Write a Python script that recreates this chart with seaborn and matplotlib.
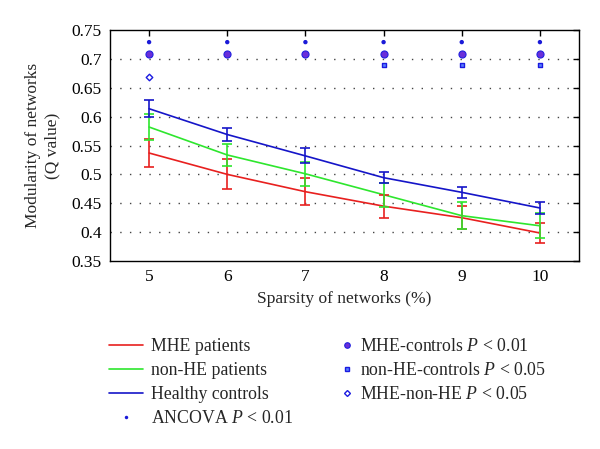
import numpy as np
import pandas as pd
import matplotlib
matplotlib.use("Agg")
import matplotlib.pyplot as plt
import seaborn as sns
from matplotlib.lines import Line2D

# ---- data ----
sparsity = [5, 6, 7, 8, 9, 10]
mhe_mean = [0.537, 0.500, 0.470, 0.445, 0.425, 0.3985]
mhe_err = [0.024, 0.026, 0.0235, 0.020, 0.020, 0.017]
nonhe_mean = [0.582, 0.5336, 0.501, 0.4648, 0.4285, 0.411]
nonhe_err = [0.0225, 0.019, 0.021, 0.021, 0.0235, 0.022]
hc_mean = [0.6137, 0.569, 0.532, 0.4943, 0.4689, 0.4418]
hc_err = [0.015, 0.012, 0.013, 0.0098, 0.010, 0.0104]

ancova_x = [5, 6, 7, 8, 9, 10]
ancova_y = [0.729, 0.729, 0.729, 0.729, 0.729, 0.729]
mhe_ctrl_x = [5, 6, 7, 8, 9, 10]
mhe_ctrl_y = [0.709, 0.709, 0.709, 0.709, 0.709, 0.709]
nonhe_ctrl_x = [8, 9, 10]
nonhe_ctrl_y = [0.689, 0.689, 0.689]
mhe_nonhe_x = [5]
mhe_nonhe_y = [0.669]

groups = ["MHE patients", "non-HE patients", "Healthy controls"]
y_ticks = [0.35, 0.4, 0.45, 0.5, 0.55, 0.6, 0.65, 0.7, 0.75]
y_tick_labels = ["0.35", "0.4", "0.45", "0.5", "0.55", "0.6", "0.65", "0.7", "0.75"]
x_ticks = [5, 6, 7, 8, 9, 10]
x_tick_labels = ["5", "6", "7", "8", "9", "10"]

colors = {"MHE patients": "#e8201f", "non-HE patients": "#2ee62e", "Healthy controls": "#1515c8"}

sns.set_style("white")
plt.rcParams["font.family"] = ["Liberation Serif", "DejaVu Serif"]
plt.rcParams["mathtext.fontset"] = "custom"
plt.rcParams["mathtext.rm"] = "Liberation Serif"
plt.rcParams["mathtext.it"] = "Liberation Serif:italic"

df = pd.DataFrame({
    "x": sparsity * 3,
    "y": mhe_mean + nonhe_mean + hc_mean,
    "err": mhe_err + nonhe_err + hc_err,
    "group": [g for g in groups for _ in sparsity],
})

fig = plt.figure(figsize=(6, 4.49), dpi=100)
ax = fig.add_axes([110 / 600, 1 - 261 / 449, (579 - 110) / 600, (261 - 30) / 449])

# grid
for yt in y_ticks[1:-1]:
    ax.axhline(yt, color="#444444", lw=1.0, ls=(0, (1, 6)), zorder=0)

sns.lineplot(data=df, x="x", y="y", hue="group", palette=colors, ax=ax,
             legend=False, lw=1.2, zorder=2)
for g in groups:
    sub = df[df["group"] == g]
    ax.errorbar(sub["x"], sub["y"], yerr=sub["err"], fmt="none",
                ecolor=colors[g], elinewidth=1.2, capsize=3.5, capthick=1.2, zorder=3)

sns.scatterplot(x=ancova_x, y=ancova_y, ax=ax, color="#1a1ad8", s=10, edgecolor="none", zorder=4)
sns.scatterplot(x=mhe_ctrl_x, y=mhe_ctrl_y, ax=ax, color="#6a2ed8", s=26,
                edgecolor="#2020e0", linewidth=0.8, zorder=4)
sns.scatterplot(x=nonhe_ctrl_x, y=nonhe_ctrl_y, ax=ax, marker="s", color="#5a80ff", s=11,
                edgecolor="#1a1ae0", linewidth=1.0, zorder=4)
sns.scatterplot(x=mhe_nonhe_x, y=mhe_nonhe_y, ax=ax, marker="D", color="white", s=11,
                edgecolor="#1a1ae0", linewidth=1.0, zorder=4)

ax.set_xlim(4.5, 10.5)
ax.set_ylim(0.35, 0.75)
ax.set_xticks(x_ticks)
ax.set_xticklabels(x_tick_labels)
ax.set_yticks(y_ticks)
ax.set_yticklabels(y_tick_labels)
ax.tick_params(direction="in", length=4, width=1, top=True, right=True,
               labelsize=12.5, colors="black", pad=6)
for s in ax.spines.values():
    s.set_color("black")
    s.set_linewidth(1.0)

ax.set_xlabel("Sparsity of networks (%)", fontsize=12.5, labelpad=4)
ax.set_ylabel("Modularity of networks\n(Q value)", fontsize=12.5, labelpad=8, linespacing=1.25)

# legends
fs = 12.8
h_left = [
    Line2D([], [], color=colors["MHE patients"], lw=1.2),
    Line2D([], [], color=colors["non-HE patients"], lw=1.2),
    Line2D([], [], color=colors["Healthy controls"], lw=1.2),
    Line2D([], [], color="#1a1ad8", ls="none", marker="o", markersize=2.5, markeredgewidth=0),
]
l_left = ["MHE patients", "non-HE patients", "Healthy controls", "ANCOVA $P$ < 0.01"]
leg1 = fig.legend(h_left, l_left, loc="upper left", bbox_to_anchor=(109 / 600, 1 - 338 / 449),
                  frameon=False, fontsize=fs, handlelength=1.9, handletextpad=0.45,
                  labelspacing=0.4, borderpad=0, borderaxespad=0)
h_right = [
    Line2D([], [], color="#6a2ed8", ls="none", marker="o", markersize=4,
           markeredgecolor="#2020e0", markeredgewidth=0.8),
    Line2D([], [], color="#5a80ff", ls="none", marker="s", markersize=3.2,
           markeredgecolor="#1a1ae0", markeredgewidth=1.0),
    Line2D([], [], color="white", ls="none", marker="D", markersize=3.0,
           markeredgecolor="#1a1ae0", markeredgewidth=1.0),
]
l_right = ["MHE-controls $P$ < 0.01", "non-HE-controls $P$ < 0.05", "MHE-non-HE $P$ < 0.05"]
leg2 = fig.legend(h_right, l_right, loc="upper left", bbox_to_anchor=(340 / 600, 1 - 338 / 449),
                  frameon=False, fontsize=fs, handlelength=0.8, handletextpad=0.3,
                  labelspacing=0.4, borderpad=0, borderaxespad=0)

fig.savefig("out.png", dpi=100, facecolor="white")
